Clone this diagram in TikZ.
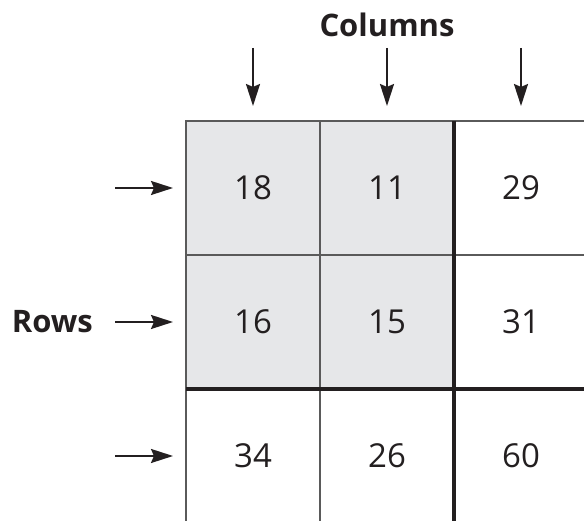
\documentclass[tikz,border=0pt]{standalone}
\usepackage{fontspec}
\setmainfont{Open Sans}
\usetikzlibrary{arrows.meta, positioning}
\definecolor{cellgray}{HTML}{E6E7E9}
\definecolor{linegray}{HTML}{5A5A5A}
\definecolor{ink}{HTML}{231F20}
\tikzset{
    >={Stealth[length=22pt, width=14pt, inset=3pt]}, % long narrow arrow heads
    cell/.style={draw=linegray, line width=2pt, minimum size=134pt, inner sep=0pt, outer sep=0pt, text=ink, font=\fontsize{33}{33}\selectfont}, % one square of the table
    shaded/.style={fill=cellgray}, % the grey block
    pointer/.style={->, line width=2.2pt, ink}, % the arrows at the sides
    heading/.style={inner sep=0pt, text=ink, font=\fontsize{31}{31}\selectfont\bfseries}, % Rows / Columns
    divider/.style={line width=4pt, ink}, % the heavy lines
    node distance=0pt, % cells touch each other
}
\begin{document}
\begin{tikzpicture}[x=1pt, y=1pt]

        \useasboundingbox (0,0) rectangle (584,521);
        \clip (0,0) rectangle (584,521);

        % Nodes
        \node[cell, shaded] (c11) at (253,333) {18};
        \node[cell, shaded, right=of c11] (c12) {11};
        \node[cell, right=of c12] (c13) {29};
        \node[cell, shaded, below=of c11] (c21) {16};
        \node[cell, shaded, right=of c21] (c22) {15};
        \node[cell, right=of c22] (c23) {31};
        \node[cell, below=of c21] (c31) {34};
        \node[cell, right=of c31] (c32) {26};
        \node[cell, right=of c32] (c33) {60};

        % heavy lines
        \draw[divider] (c13.north west) -- (c33.south west);
        \draw[divider] (c31.north west) -- (c33.north east);

        % free ends of the arrows
        \coordinate[above=73pt of c11.north] (top1);
        \coordinate[above=73pt of c12.north] (top2);
        \coordinate[above=73pt of c13.north] (top3);
        \coordinate[left=71pt of c11.west] (left1);
        \coordinate[left=71pt of c21.west] (left2);
        \coordinate[left=71pt of c31.west] (left3);

        % labels
        \node[heading, above=11pt of top2] (columns) {Columns};
        \node[heading, left=22pt of left2] (rows) {Rows};

        % edges
        \draw[pointer, shorten >=15pt] (top1) -- (c11.north);
        \draw[pointer, shorten >=15pt] (top2) -- (c12.north);
        \draw[pointer, shorten >=15pt] (top3) -- (c13.north);
        \draw[pointer, shorten >=13pt] (left1) -- (c11.west);
        \draw[pointer, shorten >=13pt] (left2) -- (c21.west);
        \draw[pointer, shorten >=13pt] (left3) -- (c31.west);
    \end{tikzpicture}
\end{document}
